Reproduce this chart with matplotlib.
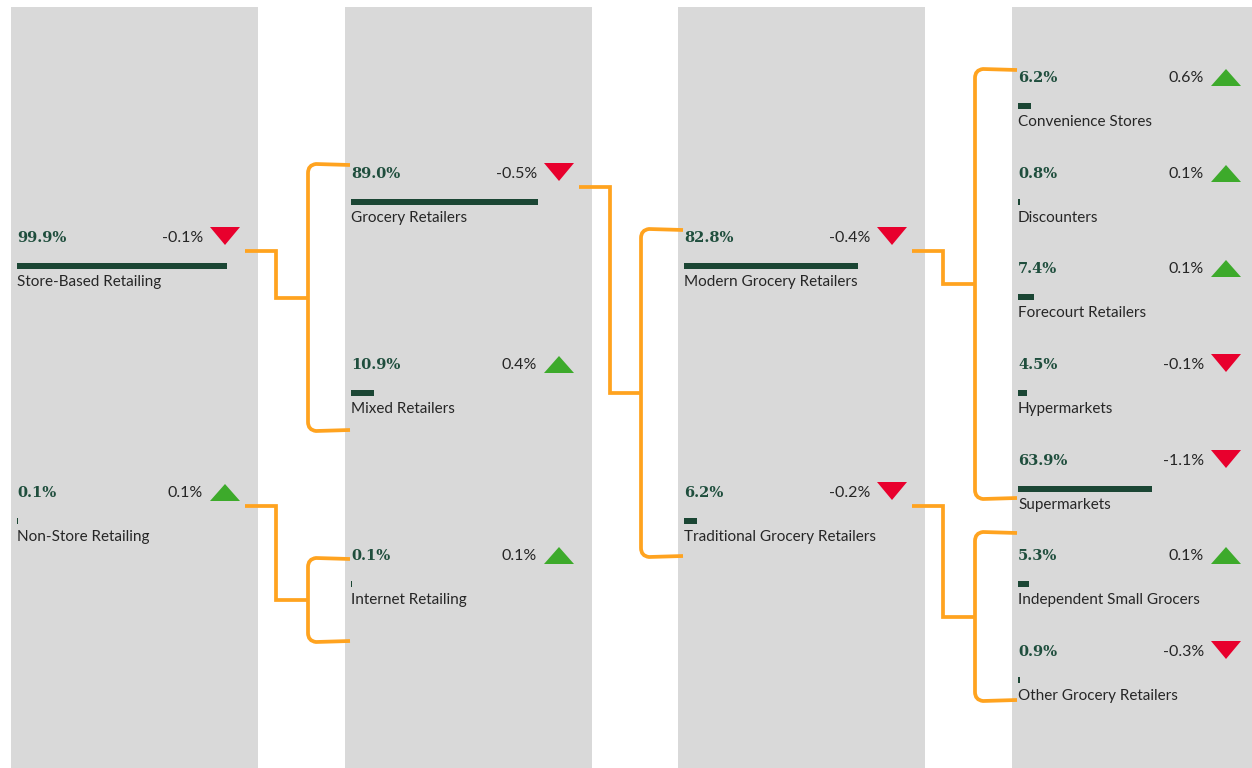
"""
Árbol de canales de retail: cuota (%) con barra y variación con triángulo.
"""
import numpy as np
import matplotlib
matplotlib.use("Agg")
import matplotlib.pyplot as plt
from matplotlib.path import Path
from matplotlib.patches import PathPatch, Polygon

# ---- datos ----
labels = ["Store-Based Retailing", "Non-Store Retailing",
          "Grocery Retailers", "Mixed Retailers", "Internet Retailing",
          "Modern Grocery Retailers", "Traditional Grocery Retailers",
          "Convenience Stores", "Discounters", "Forecourt Retailers",
          "Hypermarkets", "Supermarkets", "Independent Small Grocers",
          "Other Grocery Retailers"]
shares  = [99.9, 0.1, 89.0, 10.9, 0.1, 82.8, 6.2, 6.2, 0.8, 7.4, 4.5, 63.9, 5.3, 0.9]
changes = [-0.1, 0.1, -0.5, 0.4, 0.1, -0.4, -0.2, 0.6, 0.1, 0.1, -0.1, -1.1, 0.1, -0.3]
levels  = [0, 0, 1, 1, 1, 2, 2, 3, 3, 3, 3, 3, 3, 3]
# padre -> hijos
links = {0: [2, 3], 1: [4], 2: [5, 6], 5: [7, 8, 9, 10, 11], 6: [12, 13]}

# ---- layout (px, figura 1252x768) ----
W, H = 1252, 768
COL_X = [11, 345, 678, 1012]
COL_W = 247
ROW_Y = [242, 497, 178, 369, 560, 242, 497, 82, 178, 273, 369, 465, 560, 656]
# extremos verticales de cada corchete (arriba, abajo)
BRACKET = {0: (165, 430), 1: (559, 641), 2: (230, 556), 5: (70, 498), 6: (533, 700)}
PXS = 2.1            # px por punto de cuota
GREEN_TXT = "#1F4E3D"
BAR = "#1B4634"
ORANGE = "#FFA31F"
UP, DOWN = "#3DAA2B", "#E8002D"
TXT = "#262626"

fig = plt.figure(figsize=(W/100, H/100), dpi=100)
ax = fig.add_axes([0, 0, 1, 1])
ax.set_xlim(0, W); ax.set_ylim(H, 0); ax.axis("off")

for cx in COL_X:
    ax.add_patch(plt.Rectangle((cx, 7), COL_W, H, color="#D9D9D9", lw=0, zorder=0))

for i, lab in enumerate(labels):
    x0 = COL_X[levels[i]]
    y = ROW_Y[i]
    ax.text(x0 + 6, y, "%.1f%%" % shares[i], family="DejaVu Serif", weight="bold",
            fontsize=10.5, color=GREEN_TXT, va="baseline", ha="left")
    ax.text(x0 + 192, y, "%.1f%%" % changes[i], family="Lato", fontsize=11.5,
            color=TXT, va="baseline", ha="right")
    ax.barh(y + 23.5, max(shares[i] * PXS, 1.0), left=x0 + 6, height=6,
            color=BAR, zorder=2)
    ax.text(x0 + 6, y + 44, lab, family="Lato", fontsize=11, color=TXT,
            va="baseline", ha="left")
    tx = x0 + 214
    if changes[i] >= 0:
        tri = [(tx - 15, y + 4), (tx + 15, y + 4), (tx, y - 13)]
        col = UP
    else:
        tri = [(tx - 15, y - 15), (tx + 15, y - 15), (tx, y + 3)]
        col = DOWN
    ax.add_patch(Polygon(tri, closed=True, color=col, lw=0, zorder=3))

# conectores
R = 8
for p, kids in links.items():
    x0 = COL_X[levels[p]]
    xs = x0 + 234
    xe = xs + 31
    xb = COL_X[levels[p] + 1] - 37
    xc = COL_X[levels[p] + 1] + 5
    top, bot = BRACKET[p]
    mid = (top + bot) / 2
    ys = ROW_Y[p] + 9
    ax.plot([xs, xe, xe, xb], [ys, ys, mid, mid], color=ORANGE, lw=2.7,
            solid_joinstyle="miter", solid_capstyle="butt", zorder=1)
    verts = [(xc, top), (xb + R, top - 1), (xb, top), (xb, top + R),
             (xb, bot - R), (xb, bot), (xb + R, bot + 1), (xc, bot)]
    codes = [Path.MOVETO, Path.LINETO, Path.CURVE3, Path.CURVE3,
             Path.LINETO, Path.CURVE3, Path.CURVE3, Path.LINETO]
    ax.add_patch(PathPatch(Path(verts, codes), fill=False, edgecolor=ORANGE,
                           lw=2.7, capstyle="butt", zorder=1))

fig.savefig("out.png", dpi=100)
